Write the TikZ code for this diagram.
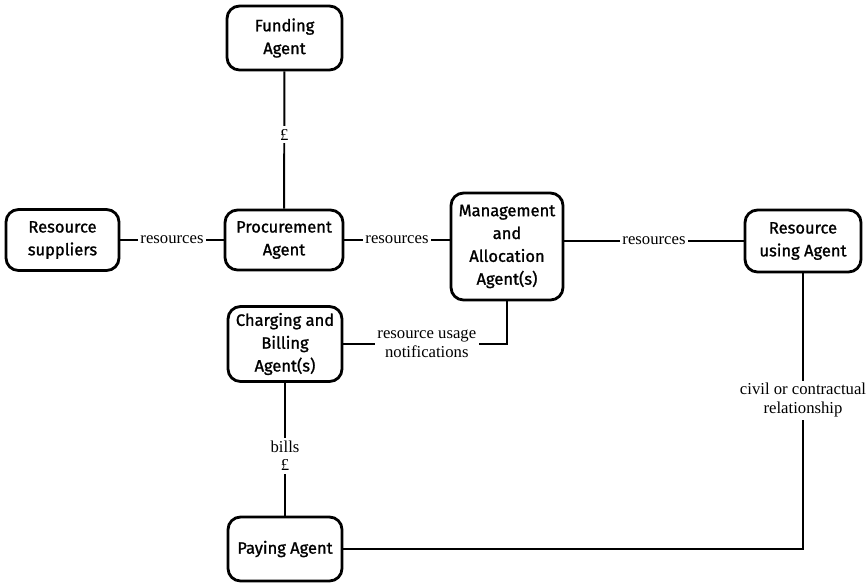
\documentclass[tikz,border=0pt]{standalone}
\usepackage{fontspec}
\setmainfont{Liberation Serif}
\newfontfamily\boxfont[FakeBold=1.2]{Fira Sans}
\begin{document}
\begin{tikzpicture}[x=0.02cm,y=-0.02cm,
  agent/.style={draw, line width=1.6pt, rounded corners=0.25cm, align=center,
    font=\boxfont\fontsize{9.4}{13}\selectfont, inner sep=2pt},
  link/.style={line width=1.1pt},
  lbl/.style={fill=white, font=\fontsize{9.5}{10.5}\selectfont, inner sep=1.5pt, align=center}]
\useasboundingbox (0,0) rectangle (866,583);

% agents
\node[agent, minimum width=2.30cm, minimum height=1.28cm] (fund) at (284.5,38) {Funding\\Agent};
\node[agent, minimum width=2.26cm, minimum height=1.22cm] (supp) at (62.5,240) {Resource\\suppliers};
\node[agent, minimum width=2.36cm, minimum height=1.20cm] (proc) at (284,240) {Procurement\\Agent};
\node[agent, minimum width=2.24cm, minimum height=2.14cm] (mgmt) at (507,246.5) {Management\\and\\Allocation\\Agent(s)};
\node[agent, minimum width=2.32cm, minimum height=1.24cm] (user) at (803,241) {Resource\\using Agent};
\node[agent, minimum width=2.28cm, minimum height=1.50cm] (bill) at (285,344) {Charging and\\Billing\\Agent(s)};
\node[agent, minimum width=2.28cm, minimum height=1.28cm] (pay) at (285,549) {Paying Agent};

% corner points of the elbow connectors
\coordinate (c1) at (mgmt.south |- bill.east);
\coordinate (c2) at (user.south |- pay.east);

% connectors
\draw[link] (fund) -- node[lbl, pos=0.46] {£} (proc);
\draw[link] (supp) -- node[lbl] {resources} (proc);
\draw[link] (proc) -- node[lbl] {resources} (mgmt.west |- proc.east);
\draw[link] (mgmt.east |- user.west) -- node[lbl] {resources} (user);
\draw[link] (mgmt.south) -- (c1) -- node[lbl, pos=0.49] {resource usage\\notifications} (bill.east);
\draw[link] (bill) -- node[lbl, pos=0.55] {bills\\£} (pay);
\draw[link] (user.south) -- node[lbl, pos=0.46] {civil or contractual\\relationship} (c2) -- (pay.east);
\end{tikzpicture}
\end{document}
